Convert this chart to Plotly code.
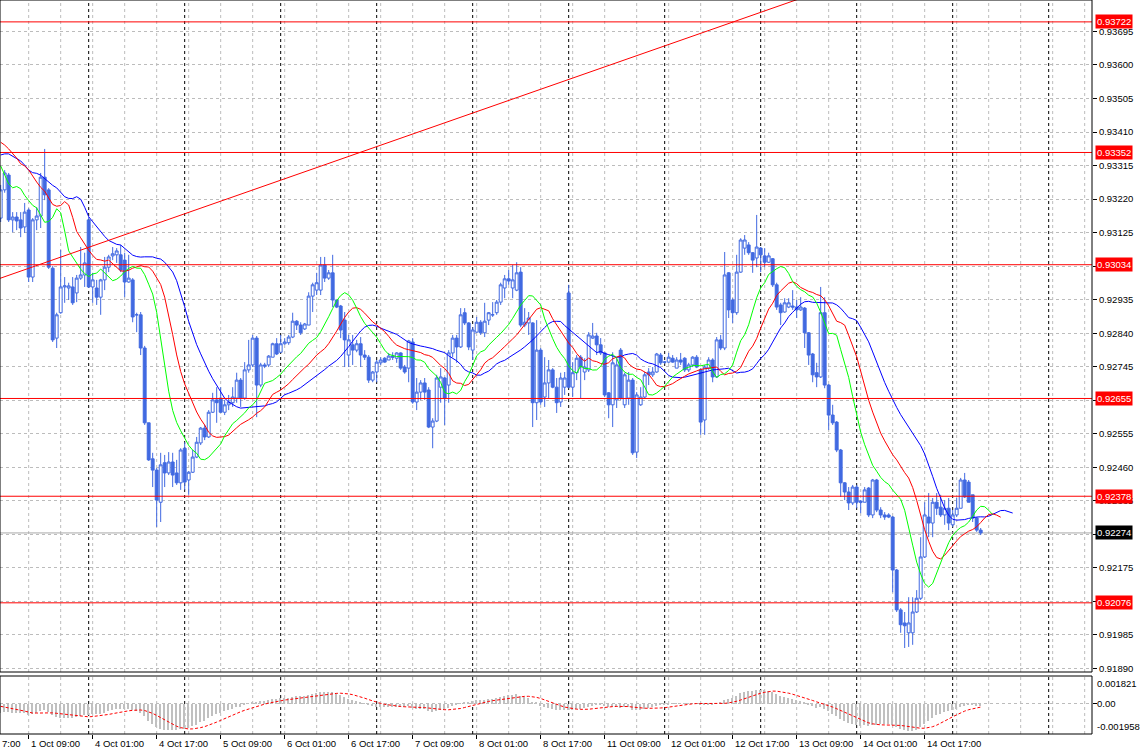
import numpy as np
import plotly.graph_objects as go

# ---------------- data (H1 bars) ----------------
OPEN = [
    0.93166, 0.93246, 0.93288, 0.93161, 0.93169, 0.93161, 0.93141, 0.93189, 0.92999, 0.93161,
    0.93172, 0.93282, 0.93246, 0.93024, 0.92826, 0.92898, 0.92971, 0.92968, 0.92971, 0.92954,
    0.92996, 0.93005, 0.93161, 0.92971, 0.92968, 0.92942, 0.92991, 0.93027, 0.93059, 0.93062,
    0.93062, 0.93047, 0.92985, 0.92991, 0.92892, 0.92892, 0.92798, 0.92586, 0.92484, 0.92452,
    0.92361, 0.92473, 0.92444, 0.92475, 0.92444, 0.92416, 0.92514, 0.92424, 0.92446, 0.92489,
    0.92529, 0.92571, 0.92546, 0.92616, 0.92651, 0.92656, 0.92616, 0.92637, 0.92643, 0.92656,
    0.92707, 0.92656, 0.92736, 0.92750, 0.92826, 0.92693, 0.92750, 0.92750, 0.92772, 0.92810,
    0.92786, 0.92810, 0.92813, 0.92829, 0.92874, 0.92863, 0.92852, 0.92863, 0.92945, 0.92962,
    0.92962, 0.93033, 0.92996, 0.93011, 0.92934, 0.92917, 0.92877, 0.92778, 0.92807, 0.92792,
    0.92810, 0.92778, 0.92772, 0.92707, 0.92730, 0.92756, 0.92769, 0.92764, 0.92775, 0.92769,
    0.92784, 0.92744, 0.92741, 0.92815, 0.92645, 0.92673, 0.92699, 0.92679, 0.92574, 0.92591,
    0.92687, 0.92713, 0.92693, 0.92784, 0.92826, 0.92801, 0.92898, 0.92869, 0.92792, 0.92843,
    0.92871, 0.92841, 0.92877, 0.92892, 0.92898, 0.92928, 0.92968, 0.92994, 0.92968, 0.92962,
    0.93013, 0.92863, 0.92869, 0.92869, 0.92643, 0.92792, 0.92659, 0.92699, 0.92736, 0.92687,
    0.92645, 0.92687, 0.92954, 0.92687, 0.92728, 0.92772, 0.92730, 0.92736, 0.92826, 0.92832,
    0.92807, 0.92784, 0.92671, 0.92637, 0.92651, 0.92792, 0.92637, 0.92656, 0.92707, 0.92503,
    0.92637, 0.92659, 0.92730, 0.92722, 0.92730, 0.92778, 0.92758, 0.92758, 0.92769, 0.92741,
    0.92764, 0.92769, 0.92736, 0.92750, 0.92772, 0.92736, 0.92594, 0.92741, 0.92764, 0.92716,
    0.92821, 0.92798, 0.93011, 0.92934, 0.92898, 0.93013, 0.93081, 0.93090, 0.93068, 0.93053,
    0.93081, 0.93059, 0.93041, 0.93051, 0.92977, 0.92920, 0.92900, 0.92914, 0.92917, 0.92914,
    0.92906, 0.92911, 0.92841, 0.92781, 0.92728, 0.92716, 0.92898, 0.92693, 0.92608, 0.92588,
    0.92509, 0.92416, 0.92390, 0.92359, 0.92404, 0.92364, 0.92361, 0.92401, 0.92325, 0.92424,
    0.92339, 0.92325, 0.92325, 0.92319, 0.92169, 0.92056, 0.92019, 0.91991, 0.91991, 0.92050,
    0.92089, 0.92206, 0.92319, 0.92302, 0.92361, 0.92347, 0.92325, 0.92344, 0.92297, 0.92325,
    0.92344, 0.92424, 0.92418, 0.92382, 0.92316, 0.92282,
]
HIGH = [
    0.93260, 0.93302, 0.93294, 0.93183, 0.93183, 0.93183, 0.93209, 0.93194, 0.93166, 0.93197,
    0.93294, 0.93362, 0.93251, 0.93030, 0.92898, 0.93076, 0.92999, 0.92983, 0.92999, 0.93005,
    0.93084, 0.93068, 0.93169, 0.93011, 0.92991, 0.92994, 0.93056, 0.93062, 0.93084, 0.93081,
    0.93090, 0.93068, 0.93062, 0.92996, 0.92898, 0.92900, 0.92804, 0.92586, 0.92501, 0.92458,
    0.92501, 0.92495, 0.92503, 0.92501, 0.92481, 0.92514, 0.92531, 0.92449, 0.92509, 0.92546,
    0.92574, 0.92580, 0.92622, 0.92671, 0.92687, 0.92687, 0.92651, 0.92665, 0.92687, 0.92728,
    0.92713, 0.92758, 0.92821, 0.92835, 0.92832, 0.92756, 0.92756, 0.92778, 0.92813, 0.92826,
    0.92835, 0.92826, 0.92835, 0.92898, 0.92877, 0.92871, 0.92869, 0.92956, 0.92983, 0.93011,
    0.93056, 0.93056, 0.93019, 0.93062, 0.92934, 0.92920, 0.92900, 0.92835, 0.92835, 0.92821,
    0.92829, 0.92792, 0.92778, 0.92733, 0.92764, 0.92772, 0.92772, 0.92784, 0.92786, 0.92786,
    0.92786, 0.92750, 0.92821, 0.92826, 0.92713, 0.92707, 0.92713, 0.92687, 0.92599, 0.92722,
    0.92741, 0.92716, 0.92792, 0.92835, 0.92835, 0.92911, 0.92911, 0.92871, 0.92857, 0.92886,
    0.92877, 0.92926, 0.92900, 0.92928, 0.92934, 0.92983, 0.93005, 0.93019, 0.93033, 0.93041,
    0.93027, 0.92911, 0.92900, 0.92871, 0.92877, 0.92798, 0.92772, 0.92764, 0.92741, 0.92713,
    0.92728, 0.92730, 0.92977, 0.92758, 0.92778, 0.92778, 0.92769, 0.92843, 0.92869, 0.92841,
    0.92826, 0.92786, 0.92673, 0.92786, 0.92769, 0.92798, 0.92728, 0.92730, 0.92713, 0.92673,
    0.92687, 0.92730, 0.92741, 0.92744, 0.92784, 0.92784, 0.92761, 0.92784, 0.92778, 0.92772,
    0.92784, 0.92772, 0.92756, 0.92775, 0.92778, 0.92741, 0.92750, 0.92772, 0.92769, 0.92829,
    0.92835, 0.93070, 0.93013, 0.92939, 0.93062, 0.93109, 0.93118, 0.93098, 0.93070, 0.93175,
    0.93084, 0.93081, 0.93068, 0.93053, 0.92983, 0.92926, 0.92939, 0.92939, 0.92962, 0.92934,
    0.92942, 0.92914, 0.92843, 0.92784, 0.92756, 0.92971, 0.92942, 0.92696, 0.92637, 0.92591,
    0.92512, 0.92418, 0.92404, 0.92410, 0.92410, 0.92367, 0.92404, 0.92404, 0.92427, 0.92427,
    0.92347, 0.92333, 0.92330, 0.92322, 0.92172, 0.92061, 0.92050, 0.92092, 0.92092, 0.92112,
    0.92262, 0.92361, 0.92387, 0.92373, 0.92387, 0.92382, 0.92367, 0.92373, 0.92339, 0.92373,
    0.92430, 0.92444, 0.92424, 0.92382, 0.92319, 0.92288,
]
LOW = [
    0.93155, 0.93238, 0.93155, 0.93126, 0.93132, 0.93112, 0.93124, 0.92985, 0.92985, 0.93132,
    0.93138, 0.93217, 0.93022, 0.92815, 0.92798, 0.92895, 0.92926, 0.92934, 0.92920, 0.92928,
    0.92991, 0.92971, 0.92968, 0.92926, 0.92920, 0.92892, 0.92962, 0.93013, 0.93047, 0.93039,
    0.93013, 0.92942, 0.92983, 0.92871, 0.92843, 0.92778, 0.92580, 0.92478, 0.92404, 0.92291,
    0.92305, 0.92404, 0.92438, 0.92404, 0.92410, 0.92396, 0.92396, 0.92382, 0.92444, 0.92486,
    0.92523, 0.92537, 0.92543, 0.92614, 0.92586, 0.92614, 0.92608, 0.92622, 0.92631, 0.92643,
    0.92631, 0.92651, 0.92728, 0.92744, 0.92602, 0.92687, 0.92741, 0.92744, 0.92772, 0.92778,
    0.92784, 0.92807, 0.92807, 0.92826, 0.92849, 0.92835, 0.92849, 0.92863, 0.92900, 0.92948,
    0.92948, 0.92985, 0.92991, 0.92914, 0.92911, 0.92826, 0.92744, 0.92744, 0.92750, 0.92786,
    0.92744, 0.92764, 0.92699, 0.92701, 0.92701, 0.92750, 0.92756, 0.92764, 0.92764, 0.92756,
    0.92736, 0.92725, 0.92701, 0.92640, 0.92622, 0.92651, 0.92651, 0.92571, 0.92514, 0.92588,
    0.92643, 0.92580, 0.92643, 0.92772, 0.92756, 0.92798, 0.92863, 0.92792, 0.92764, 0.92841,
    0.92835, 0.92829, 0.92863, 0.92886, 0.92892, 0.92920, 0.92939, 0.92977, 0.92939, 0.92959,
    0.92857, 0.92857, 0.92835, 0.92574, 0.92594, 0.92637, 0.92631, 0.92656, 0.92684, 0.92614,
    0.92631, 0.92665, 0.92684, 0.92659, 0.92707, 0.92656, 0.92707, 0.92730, 0.92824, 0.92778,
    0.92778, 0.92659, 0.92599, 0.92574, 0.92628, 0.92651, 0.92628, 0.92637, 0.92495, 0.92486,
    0.92634, 0.92656, 0.92693, 0.92716, 0.92728, 0.92750, 0.92753, 0.92756, 0.92756, 0.92741,
    0.92750, 0.92730, 0.92730, 0.92744, 0.92741, 0.92552, 0.92552, 0.92736, 0.92701, 0.92713,
    0.92792, 0.92792, 0.92883, 0.92869, 0.92892, 0.93011, 0.93062, 0.93062, 0.93011, 0.93027,
    0.93013, 0.93027, 0.93039, 0.92971, 0.92906, 0.92863, 0.92898, 0.92911, 0.92906, 0.92883,
    0.92903, 0.92798, 0.92750, 0.92701, 0.92687, 0.92713, 0.92684, 0.92566, 0.92580, 0.92503,
    0.92376, 0.92367, 0.92339, 0.92353, 0.92344, 0.92330, 0.92361, 0.92319, 0.92316, 0.92333,
    0.92316, 0.92311, 0.92316, 0.92106, 0.92050, 0.91991, 0.91948, 0.91951, 0.91957, 0.92047,
    0.92084, 0.92203, 0.92262, 0.92262, 0.92325, 0.92319, 0.92297, 0.92282, 0.92291, 0.92319,
    0.92344, 0.92373, 0.92361, 0.92305, 0.92277, 0.92268,
]
CLOSE = [
    0.93246, 0.93294, 0.93161, 0.93169, 0.93158, 0.93138, 0.93183, 0.92999, 0.93161, 0.93172,
    0.93282, 0.93232, 0.93027, 0.92821, 0.92892, 0.92971, 0.92974, 0.92974, 0.92926, 0.92996,
    0.93005, 0.93039, 0.92971, 0.92991, 0.92942, 0.92991, 0.93027, 0.93056, 0.93065, 0.93073,
    0.93019, 0.92985, 0.92996, 0.92886, 0.92892, 0.92798, 0.92586, 0.92481, 0.92452, 0.92367,
    0.92467, 0.92444, 0.92475, 0.92438, 0.92416, 0.92509, 0.92418, 0.92446, 0.92489, 0.92531,
    0.92571, 0.92546, 0.92616, 0.92651, 0.92643, 0.92616, 0.92637, 0.92645, 0.92659, 0.92707,
    0.92656, 0.92736, 0.92750, 0.92826, 0.92693, 0.92750, 0.92747, 0.92775, 0.92810, 0.92781,
    0.92810, 0.92815, 0.92829, 0.92874, 0.92863, 0.92841, 0.92866, 0.92945, 0.92977, 0.92983,
    0.93033, 0.92996, 0.93011, 0.92934, 0.92914, 0.92849, 0.92821, 0.92821, 0.92792, 0.92810,
    0.92778, 0.92772, 0.92707, 0.92730, 0.92758, 0.92764, 0.92758, 0.92775, 0.92772, 0.92784,
    0.92741, 0.92730, 0.92818, 0.92645, 0.92673, 0.92699, 0.92673, 0.92574, 0.92591, 0.92713,
    0.92716, 0.92656, 0.92784, 0.92826, 0.92801, 0.92892, 0.92869, 0.92801, 0.92849, 0.92871,
    0.92841, 0.92874, 0.92898, 0.92892, 0.92928, 0.92977, 0.92994, 0.92988, 0.92991, 0.93011,
    0.92863, 0.92871, 0.92883, 0.92643, 0.92792, 0.92645, 0.92699, 0.92736, 0.92687, 0.92643,
    0.92713, 0.92713, 0.92687, 0.92728, 0.92769, 0.92744, 0.92744, 0.92835, 0.92832, 0.92807,
    0.92784, 0.92665, 0.92637, 0.92756, 0.92750, 0.92656, 0.92722, 0.92707, 0.92501, 0.92665,
    0.92659, 0.92722, 0.92722, 0.92730, 0.92781, 0.92756, 0.92758, 0.92772, 0.92758, 0.92764,
    0.92758, 0.92736, 0.92750, 0.92772, 0.92744, 0.92588, 0.92744, 0.92764, 0.92716, 0.92821,
    0.92798, 0.93005, 0.92906, 0.92898, 0.93013, 0.93104, 0.93104, 0.93068, 0.93047, 0.93084,
    0.93062, 0.93041, 0.93059, 0.92977, 0.92914, 0.92898, 0.92926, 0.92926, 0.92914, 0.92906,
    0.92914, 0.92841, 0.92778, 0.92722, 0.92716, 0.92898, 0.92693, 0.92608, 0.92586, 0.92509,
    0.92416, 0.92390, 0.92359, 0.92404, 0.92361, 0.92361, 0.92396, 0.92325, 0.92424, 0.92339,
    0.92325, 0.92319, 0.92319, 0.92169, 0.92056, 0.92014, 0.92011, 0.92019, 0.92050, 0.92089,
    0.92206, 0.92325, 0.92302, 0.92361, 0.92344, 0.92325, 0.92344, 0.92302, 0.92325, 0.92344,
    0.92424, 0.92376, 0.92361, 0.92316, 0.92282, 0.92274,
]

# Indicator values at the left edge (state before the first bar)
JAW_HEAD = [0.93345, 0.93348, 0.93348, 0.93342, 0.93336, 0.93328, 0.93316, 0.93302]
TEETH_HEAD = [0.93381, 0.93373, 0.93362, 0.93350, 0.93336]
LIPS_HEAD = [0.93314, 0.93288, 0.93263]
MACD_START = -0.0006
SIGNAL_START = -0.0001

RED_LEVELS = [0.93722, 0.93352, 0.93034, 0.92655, 0.92378, 0.92076]
BID = 0.92274
TREND_BARS = [0, 193]
TREND_PRICES = [0.92996, 0.93761]

PRICE_TICKS = [0.93695, 0.93600, 0.93505, 0.93410, 0.93315, 0.93220, 0.93125, 0.93030,
               0.92935, 0.92840, 0.92745, 0.92650, 0.92555, 0.92460, 0.92365, 0.92270,
               0.92175, 0.92080, 0.91985, 0.91890]
# ticks whose labels are fully covered by a level box in the reference
COVERED_TICKS = [0.93030, 0.92650, 0.92270, 0.92080]
LABEL_BARS = [7, 23, 39, 55, 71, 87, 103, 119, 135, 151, 167, 183, 199, 215, 231]
LABEL_TEXT = ["1 Oct 09:00", "4 Oct 01:00", "4 Oct 17:00", "5 Oct 09:00", "6 Oct 01:00",
              "6 Oct 17:00", "7 Oct 09:00", "8 Oct 01:00", "8 Oct 17:00", "11 Oct 09:00",
              "12 Oct 01:00", "12 Oct 17:00", "13 Oct 09:00", "14 Oct 01:00", "14 Oct 17:00"]
DAY_START_BARS = [22, 46, 70, 94, 118, 142, 166, 190, 214, 238, 262]
MACD_MAX, MACD_MIN = 0.001821, -0.001958

# ---------------- indicators ----------------
o, h, l, c = map(np.array, (OPEN, HIGH, LOW, CLOSE))
n = len(c)
bars = np.arange(n)
median = (h + l) / 2


def smma(vals, period, seed):
    out, prev = [], seed
    for v in vals:
        prev = (prev * (period - 1) + v) / period
        out.append(prev)
    return out


jaw = JAW_HEAD + smma(median, 13, JAW_HEAD[-1])
teeth = TEETH_HEAD + smma(median, 8, TEETH_HEAD[-1])
lips = LIPS_HEAD + smma(median, 5, LIPS_HEAD[-1])

# MACD(12, 26, 9): EMAs seeded so that the first bar shows the value
a_f, a_s = 2 / 13, 2 / 27
ema_f, ema_s = c[0], c[0] - MACD_START
macd = [ema_f - ema_s]
for v in c[1:]:
    ema_f += a_f * (v - ema_f)
    ema_s += a_s * (v - ema_s)
    macd.append(ema_f - ema_s)
hist_for_sig = [SIGNAL_START] * 8 + macd
signal = [float(np.mean(hist_for_sig[i:i + 9])) for i in range(n)]

# ---------------- figure ----------------
FONT = "Liberation Sans, Arial, sans-serif"
FS = 9.5
BLUE = "#4169E1"
GRID = "#bcbcbc"
XR = [-0.17, 272.83]

fig = go.Figure()
fig.add_trace(go.Candlestick(
    x=bars, open=o, high=h, low=l, close=c, xaxis="x", yaxis="y",
    increasing=dict(line=dict(color=BLUE, width=1), fillcolor="white"),
    decreasing=dict(line=dict(color=BLUE, width=1), fillcolor=BLUE),
    whiskerwidth=0, hoverinfo="skip", showlegend=False))

for vals, col in ((jaw, "#0000ff"), (teeth, "#ff0000"), (lips, "#00ff00")):
    fig.add_trace(go.Scatter(x=np.arange(len(vals)), y=vals, mode="lines",
                             line=dict(color=col, width=1), xaxis="x", yaxis="y",
                             hoverinfo="skip", showlegend=False))

slope = (TREND_PRICES[1] - TREND_PRICES[0]) / (TREND_BARS[1] - TREND_BARS[0])
tx = [XR[0] - 1, XR[1] + 1]
fig.add_trace(go.Scatter(x=tx, y=[TREND_PRICES[0] + slope * (t - TREND_BARS[0]) for t in tx],
                         mode="lines", line=dict(color="#ff0000", width=1),
                         xaxis="x", yaxis="y", hoverinfo="skip", showlegend=False))

fig.add_trace(go.Bar(x=bars, y=macd, width=0.4, marker=dict(color="#c0c0c0", line=dict(width=0)),
                     xaxis="x2", yaxis="y2", hoverinfo="skip", showlegend=False))
fig.add_trace(go.Scatter(x=bars, y=signal, mode="lines",
                         line=dict(color="#ff0000", width=1, dash="3px,2px"),
                         xaxis="x2", yaxis="y2", hoverinfo="skip", showlegend=False))

shapes = []
for ya in ("y", "y2"):
    for b in range(7, 273, 8):
        shapes.append(dict(type="line", xref="x", x0=b, x1=b, yref=f"{ya} domain", y0=0, y1=1,
                           line=dict(color=GRID, width=1, dash="3px,3px"), layer="below"))
    for b in DAY_START_BARS:
        shapes.append(dict(type="line", xref="x", x0=b, x1=b, yref=f"{ya} domain", y0=0, y1=1,
                           line=dict(color="black", width=1, dash="3px,3px"), layer="below"))
shapes.append(dict(type="line", xref="x domain", x0=0, x1=1, yref="y", y0=BID, y1=BID,
                   line=dict(color="#a8a8a8", width=1), layer="below"))
for lv in RED_LEVELS:
    shapes.append(dict(type="line", xref="x domain", x0=0, x1=1, yref="y", y0=lv, y1=lv,
                       line=dict(color="#ff0000", width=1), layer="above"))
for ya in ("y", "y2"):
    shapes.append(dict(type="rect", xref="x domain", x0=0, x1=1, yref=f"{ya} domain", y0=0, y1=1,
                       line=dict(color="black", width=1), layer="above"))

ann = []
for lv in RED_LEVELS:
    ann.append(dict(x=1, xref="paper", xanchor="left", xshift=3, y=lv, yref="y", yanchor="middle",
                    text=f"{lv:.5f}", showarrow=False, bgcolor="#ff0000", borderpad=1,
                    font=dict(color="white", size=FS, family=FONT)))
ann.append(dict(x=1, xref="paper", xanchor="left", xshift=3, y=BID, yref="y", yanchor="middle",
                text=f"{BID:.5f}", showarrow=False, bgcolor="black", borderpad=1,
                font=dict(color="white", size=FS, family=FONT)))
for b, t in zip(LABEL_BARS, LABEL_TEXT):
    ann.append(dict(x=b, xref="x2", xanchor="left", xshift=0, y=0, yref="paper", yanchor="top",
                    yshift=-1, text=t, showarrow=False, font=dict(size=FS, family=FONT, color="black")))
ann.append(dict(x=0, xref="paper", xanchor="left", y=0, yref="paper", yanchor="top", yshift=-1,
                text="7:00", showarrow=False, font=dict(size=FS, family=FONT, color="black")))
for v, t, anc in ((MACD_MAX, f"{MACD_MAX:.6f}", "top"), (0.0, "0.00", "middle"),
                  (MACD_MIN, f"{MACD_MIN:.6f}", "bottom")):
    ann.append(dict(x=1, xref="paper", xanchor="left", xshift=3, y=v, yref="y2", yanchor=anc,
                    text=t, showarrow=False, font=dict(size=FS, family=FONT, color="black")))

ticktext = ["" if v in COVERED_TICKS else f"{v:.5f}" for v in PRICE_TICKS]

fig.update_layout(
    width=1140, height=754, margin=dict(l=0, r=48, t=0, b=19),
    paper_bgcolor="white", plot_bgcolor="white", showlegend=False,
    boxgap=0.15, boxgroupgap=0.15, bargap=0,
    font=dict(family=FONT, size=FS, color="black"),
    shapes=shapes, annotations=ann,
    xaxis=dict(domain=[0, 1], range=XR, showticklabels=False, ticks="", showgrid=False,
               zeroline=False, rangeslider=dict(visible=False), anchor="y"),
    yaxis=dict(domain=[63 / 735, 1.0], range=[0.91880, 0.93784], side="right", anchor="x",
               tickvals=PRICE_TICKS, ticktext=ticktext,
               ticks="outside", ticklen=4, tickcolor="black", showgrid=True, gridcolor=GRID,
               griddash="3px,3px", zeroline=False, tickfont=dict(size=FS, family=FONT)),
    xaxis2=dict(domain=[0, 1], range=XR, anchor="y2", tickvals=LABEL_BARS, ticks="outside",
                ticklen=4, tickcolor="black", showticklabels=False, showgrid=False, zeroline=False),
    yaxis2=dict(domain=[1 / 735, 59 / 735], range=[MACD_MIN, MACD_MAX], side="right", anchor="x2",
                tickvals=[0], ticks="outside", ticklen=4, tickcolor="black", showticklabels=False,
                showgrid=True, gridcolor=GRID, griddash="3px,3px", zeroline=False),
)

fig.write_html("out.html", config={"displayModeBar": False},
               post_script="document.body.style.margin='0';document.body.style.overflow='hidden';")
